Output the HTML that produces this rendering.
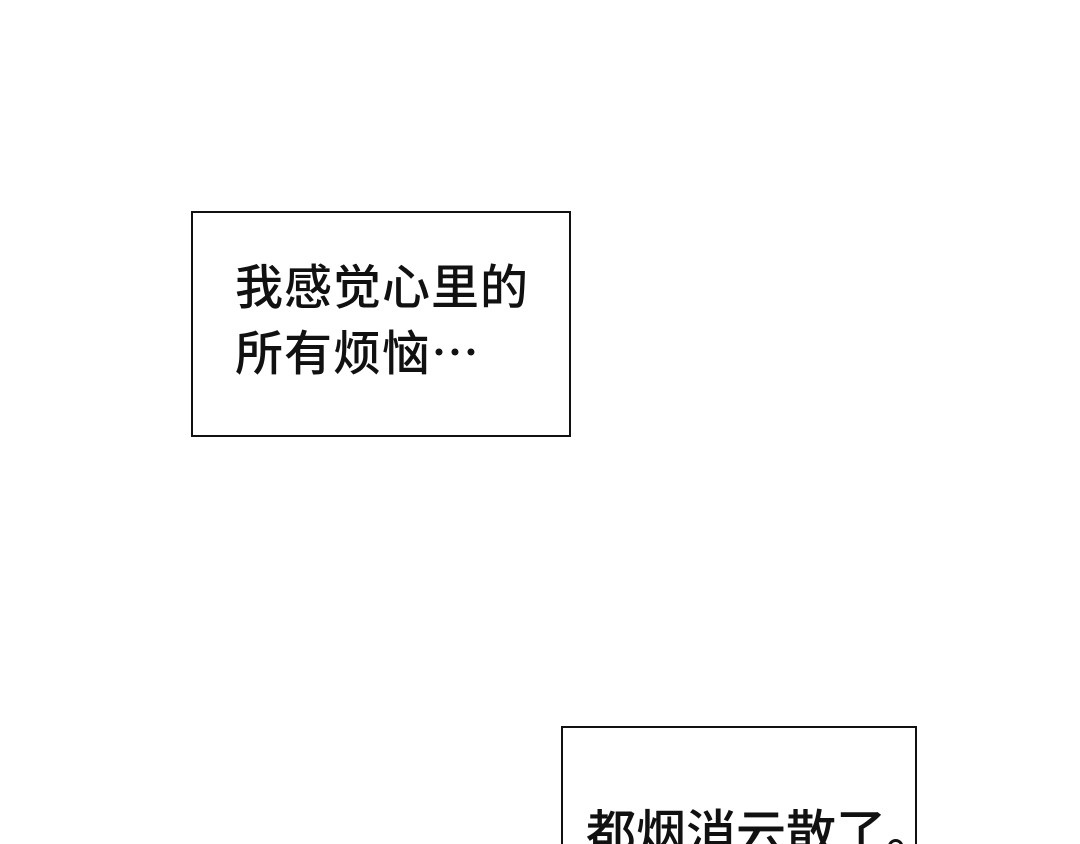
<!DOCTYPE html>
<html><head><meta charset="utf-8"><style>
html,body{margin:0;padding:0;background:#fff;width:1080px;height:844px;overflow:hidden;position:relative}
.b{position:absolute;border:2px solid #111;background:#fff;box-sizing:border-box}
.t{position:absolute;font-family:"Noto Sans CJK SC",sans-serif;font-size:48px;line-height:66px;color:#111;white-space:nowrap;font-weight:500;letter-spacing:1px}
</style></head><body>
<div class="b" style="left:191px;top:211px;width:380px;height:226px"></div>
<div class="t" style="left:235px;top:250px">我感觉心里的<br>所有烦恼⋯</div>
<div class="b" style="left:561px;top:726px;width:356px;height:140px"></div>
<div class="t" style="left:586px;top:797px;font-size:50px;letter-spacing:0">都烟消云散了。</div>
</body></html>
